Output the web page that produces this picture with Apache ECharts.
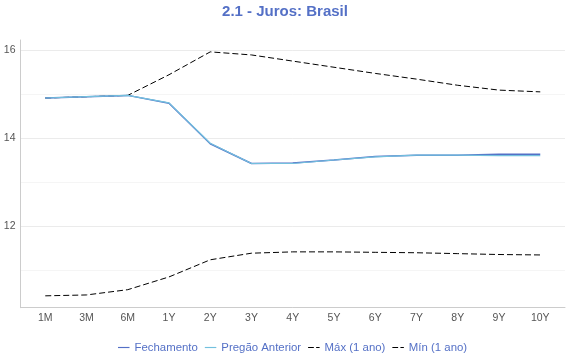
<!DOCTYPE html>
<html>
<head>
<meta charset="utf-8">
<script src="https://cdn.jsdelivr.net/npm/echarts@6/dist/echarts.min.js"></script>
<style>html,body{margin:0;padding:0;background:#fff}#c{width:570px;height:360px}</style>
</head>
<body>
<div id="c"></div>
<script>
var categories = ['1M','3M','6M','1Y','2Y','3Y','4Y','5Y','6Y','7Y','8Y','9Y','10Y'];
var fechamento = [14.91,14.94,14.97,14.79,13.87,13.42,13.43,13.50,13.58,13.61,13.61,13.63,13.63];
var pregaoAnterior = [14.91,14.94,14.97,14.80,13.88,13.42,13.42,13.50,13.57,13.61,13.61,13.60,13.60];
var maxAno = [14.91,14.94,14.97,15.44,15.96,15.89,15.75,15.61,15.47,15.34,15.20,15.09,15.05];
var minAno = [10.41,10.43,10.55,10.84,11.23,11.38,11.41,11.41,11.40,11.39,11.37,11.35,11.34];
var yTickLabels = [12,14,16];

function pairs(arr){ return arr.map(function(v,i){ return [i, v]; }); }
var FONT = 'Liberation Sans, Arial, sans-serif';
var SOLID = 'path://M0,0h10v1h-10z';
var DASH = 'path://M0,0h5v1h-5zM7,0h3v1h-3z';
var chart = echarts.init(document.getElementById('c'), null, {renderer:'canvas'});
chart.setOption({
  animation: false,
  backgroundColor: '#fff',
  textStyle: {fontFamily: FONT},
  title: {
    text: '2.1 - Juros: Brasil', left: 'center', top: 4, padding: 0,
    textStyle: {color: '#5470c6', fontSize: 15, fontWeight: 'bold', fontFamily: FONT}
  },
  legend: {
    top: 342, left: 118, padding: 0, itemWidth: 11.5, itemHeight: 1.3, itemGap: 7,
    textStyle: {color: '#5470c6', fontSize: 11.4, fontFamily: FONT},
    data: [
      {name: 'Fechamento', icon: SOLID},
      {name: 'Pregão Anterior', icon: SOLID},
      {name: 'Máx (1 ano)', icon: DASH},
      {name: 'Mín (1 ano)', icon: DASH}
    ]
  },
  grid: {left: 20.5, right: 5, top: 40, bottom: 52.3, containLabel: false},
  xAxis: {
    type: 'value', min: -0.6, max: 12.6, splitNumber: 13,
    axisLine: {show: true, onZero: false, lineStyle: {color: '#cccccc'}},
    axisTick: {show: false},
    splitLine: {show: false},
    axisLabel: {
      color: '#555', fontSize: 10.5, margin: 5, showMinLabel: false, showMaxLabel: false,
      formatter: function(v){ return (Number.isInteger(v) && categories[v] !== undefined) ? categories[v] : ''; }
    }
  },
  yAxis: {
    type: 'value', min: 10.14, max: 16.23, splitNumber: 6,
    axisLine: {show: true, onZero: false, lineStyle: {color: '#cccccc'}},
    axisTick: {show: false},
    splitLine: {show: true, showMaxLine: false, lineStyle: {color: ['#ebebeb','#f5f5f5'], width: 1}},
    axisLabel: {
      color: '#555', fontSize: 10.5, margin: 5, showMinLabel: false, showMaxLabel: false,
      formatter: function(v){ return yTickLabels.indexOf(v) >= 0 ? String(v) : ''; }
    }
  },
  series: [
    {name: 'Fechamento', type: 'line', data: pairs(fechamento), symbol: 'none', z: 3,
     lineStyle: {color: '#5470c6', width: 1.5}, itemStyle: {color: '#5470c6'}},
    {name: 'Pregão Anterior', type: 'line', data: pairs(pregaoAnterior), symbol: 'none', z: 4,
     lineStyle: {color: '#73c0de', width: 1.2}, itemStyle: {color: '#73c0de'}},
    {name: 'Máx (1 ano)', type: 'line', data: pairs(maxAno), symbol: 'none', z: 1,
     lineStyle: {color: '#000', width: 1, type: [6,3]}, itemStyle: {color: '#000'}},
    {name: 'Mín (1 ano)', type: 'line', data: pairs(minAno), symbol: 'none', z: 1,
     lineStyle: {color: '#000', width: 1, type: [6,3]}, itemStyle: {color: '#000'}}
  ]
});
</script>
</body>
</html>
